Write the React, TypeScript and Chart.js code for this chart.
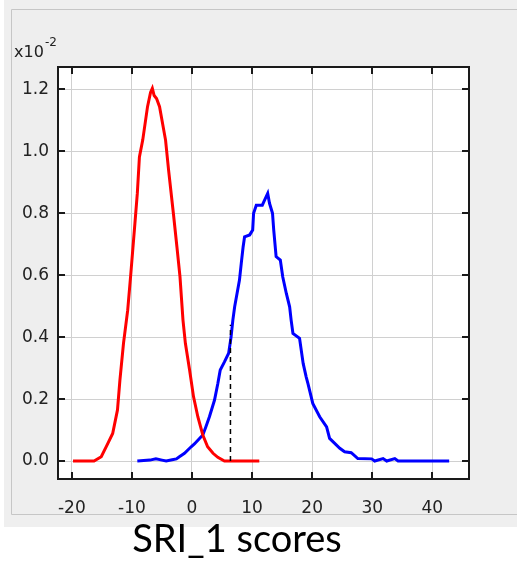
import { useEffect, useRef } from 'react';
import { Chart, registerables } from 'chart.js';

Chart.register(...registerables);

// ---- data (values in units of 1e-2) ----
const redX = [-19.8, -16.3, -15.1, -14.0, -13.2, -12.4, -12.0, -11.4, -10.7, -10.2, -9.5, -9.1, -8.75, -8.2, -7.4, -6.9, -6.6, -6.3, -5.9, -5.4, -4.4, -3.9, -3.1, -2.5, -2.0, -1.5, -1.1, -0.4, 0.25, 0.97, 1.8, 2.6, 3.5, 4.3, 5.4, 11.2];
const redY = [0, 0, 0.014, 0.057, 0.089, 0.165, 0.26, 0.38, 0.487, 0.6, 0.767, 0.864, 0.982, 1.036, 1.144, 1.19, 1.203, 1.18, 1.17, 1.144, 1.036, 0.94, 0.8, 0.69, 0.595, 0.455, 0.38, 0.294, 0.208, 0.143, 0.084, 0.046, 0.025, 0.012, 0, 0];

const blueX = [-9.1, -7.0, -6.0, -5.0, -4.3, -3.3, -2.6, -2.1, -1.25, -0.14, 0.4, 1.25, 1.8, 2.3, 2.9, 3.75, 4.3, 4.7, 5.4, 6.1, 6.5, 6.8, 7.1, 7.9, 8.2, 8.5, 8.75, 9.6, 10.1, 10.25, 10.7, 11.7, 12.1, 12.6, 12.9, 13.4, 13.6, 14.0, 14.7, 15.1, 15.7, 16.25, 16.5, 16.8, 17.9, 18.5, 19.0, 19.3, 20.1, 21.25, 22.4, 22.9, 24.6, 25.4, 26.5, 27.6, 29.9, 30.4, 31.8, 32.4, 33.75, 34.3, 42.8];
const blueY = [0, 0.003, 0.007, 0.003, 0, 0.004, 0.007, 0.014, 0.025, 0.046, 0.055, 0.073, 0.084, 0.11, 0.143, 0.197, 0.25, 0.294, 0.32, 0.348, 0.4, 0.455, 0.498, 0.584, 0.638, 0.69, 0.724, 0.73, 0.746, 0.8, 0.826, 0.826, 0.843, 0.864, 0.832, 0.8, 0.746, 0.66, 0.649, 0.595, 0.541, 0.498, 0.455, 0.412, 0.396, 0.315, 0.272, 0.25, 0.186, 0.143, 0.11, 0.073, 0.041, 0.03, 0.027, 0.008, 0.007, 0, 0.008, 0, 0.008, 0, 0];

const cutoffX = [6.4, 6.4];
const cutoffY = [0, 0.44];

const xTicks = [-20, -10, 0, 10, 20, 30, 40];
const yTicks = [0, 0.2, 0.4, 0.6, 0.8, 1.0, 1.2];
const xRange = [-22.3, 46.1];
const yRange = [-0.058, 1.272];

const axisTitle = 'SRI_1 scores';
const expBase = 'x10';
const expPower = '-2';

const toPoints = (xs: number[], ys: number[]) => xs.map((x, i) => ({ x, y: ys[i] }));

const W = 517;
const H = 561;

const framePlugin = {
  id: 'framePlugin',
  beforeDraw(chart: any) {
    const ctx = chart.ctx;
    const a = chart.chartArea;
    ctx.save();
    ctx.fillStyle = '#ffffff';
    ctx.fillRect(0, 0, W, H);
    ctx.fillStyle = '#efefef';
    ctx.fillRect(4, 0, W - 4, 527);
    ctx.fillStyle = '#eeeeee';
    ctx.fillRect(12, 9, W - 12, 505);
    ctx.strokeStyle = '#c6c6c6';
    ctx.lineWidth = 1;
    ctx.beginPath();
    ctx.moveTo(11.5, 514.5);
    ctx.lineTo(11.5, 9.5);
    ctx.lineTo(W, 9.5);
    ctx.moveTo(11.5, 514.5);
    ctx.lineTo(W, 514.5);
    ctx.stroke();
    ctx.fillStyle = '#ffffff';
    ctx.fillRect(a.left, a.top, a.right - a.left, a.bottom - a.top);
    ctx.restore();
  },
  afterDraw(chart: any) {
    const ctx = chart.ctx;
    const a = chart.chartArea;
    const xs = chart.scales.x;
    const ys = chart.scales.y;
    ctx.save();
    ctx.strokeStyle = '#1a1a1a';
    ctx.lineWidth = 2;
    ctx.strokeRect(a.left, a.top, a.right - a.left, a.bottom - a.top);
    ctx.beginPath();
    xTicks.forEach((v) => {
      const p = Math.round(xs.getPixelForValue(v));
      ctx.moveTo(p, a.bottom);
      ctx.lineTo(p, a.bottom - 7);
      ctx.moveTo(p, a.top);
      ctx.lineTo(p, a.top + 7);
    });
    yTicks.forEach((v) => {
      const p = Math.round(ys.getPixelForValue(v));
      ctx.moveTo(a.left, p);
      ctx.lineTo(a.left + 7, p);
      ctx.moveTo(a.right, p);
      ctx.lineTo(a.right - 7, p);
    });
    ctx.stroke();

    ctx.fillStyle = '#222222';
    ctx.textBaseline = 'alphabetic';
    ctx.textAlign = 'left';
    ctx.font = '16px "DejaVu Sans"';
    ctx.fillText(expBase, 14, 57);
    ctx.font = '12px "DejaVu Sans"';
    ctx.fillText(expPower, 45, 46);

    ctx.fillStyle = '#000000';
    ctx.textAlign = 'center';
    ctx.font = '38px Lato';
    ctx.fillText(axisTitle, 237, 552);
    ctx.restore();
  },
};

export default function App() {
  const ref = useRef<HTMLCanvasElement>(null);

  useEffect(() => {
    if (!ref.current) return;
    const tickFont = { family: '"DejaVu Sans"', size: 17 };
    const chart = new Chart(ref.current, {
      type: 'line',
      data: {
        datasets: [
          {
            label: 'cutoff',
            data: toPoints(cutoffX, cutoffY),
            borderColor: '#000000',
            borderWidth: 1.5,
            borderDash: [5, 4],
            pointRadius: 0,
            order: 0,
          },
          {
            label: 'red',
            data: toPoints(redX, redY),
            borderColor: '#ff0000',
            borderWidth: 3,
            pointRadius: 0,
            tension: 0,
            order: 1,
          },
          {
            label: 'blue',
            data: toPoints(blueX, blueY),
            borderColor: '#0000ff',
            borderWidth: 3,
            pointRadius: 0,
            tension: 0,
            order: 2,
          },
        ],
      },
      options: {
        responsive: false,
        animation: false,
        layout: { padding: { left: 0, top: 67, right: 48, bottom: 0 } },
        plugins: {
          legend: { display: false },
          tooltip: { enabled: false },
          title: { display: false },
        },
        scales: {
          x: {
            type: 'linear',
            min: xRange[0],
            max: xRange[1],
            afterBuildTicks: (s: any) => {
              s.ticks = xTicks.map((v) => ({ value: v }));
            },
            afterFit: (s: any) => {
              s.height = H - 479;
            },
            grid: { color: '#d0d0d0', lineWidth: 1, drawTicks: false },
            border: { display: false },
            ticks: {
              padding: 19,
              color: '#222222',
              font: tickFont,
              maxRotation: 0,
              autoSkip: false,
              callback: (v: any) => String(v),
            },
          },
          y: {
            type: 'linear',
            min: yRange[0],
            max: yRange[1],
            afterBuildTicks: (s: any) => {
              s.ticks = yTicks.map((v) => ({ value: v }));
            },
            afterFit: (s: any) => {
              s.width = 58;
            },
            grid: { color: '#d0d0d0', lineWidth: 1, drawTicks: false },
            border: { display: false },
            ticks: {
              padding: 9,
              color: '#222222',
              font: tickFont,
              autoSkip: false,
              callback: (v: any) => Number(v).toFixed(1),
            },
          },
        },
      },
      plugins: [framePlugin],
    } as any);
    return () => chart.destroy();
  }, []);

  return (
    <div style={{ position: 'fixed', left: 0, top: 0, width: W, height: H, background: '#fff' }}>
      <canvas ref={ref} width={W} height={H} style={{ width: W, height: H, display: 'block' }} />
    </div>
  );
}
